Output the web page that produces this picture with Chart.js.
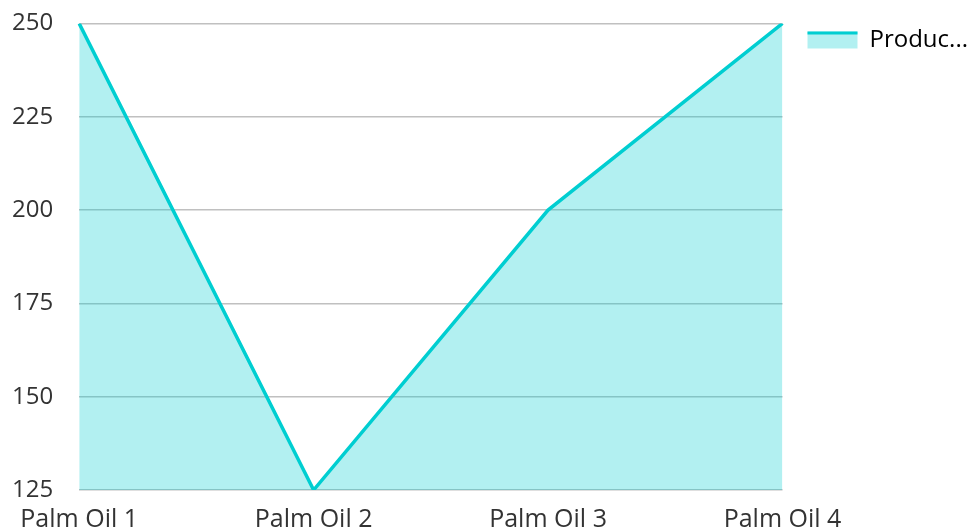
<!DOCTYPE html>
<html>
<head>
<meta charset="utf-8">
<script src="https://cdn.jsdelivr.net/npm/chart.js@4/dist/chart.umd.min.js"></script>
<style>
html,body{margin:0;padding:0;background:#fff;}
#wrap{width:969px;height:531px;position:relative;}
</style>
</head>
<body>
<div id="wrap"><canvas id="c" width="969" height="531"></canvas></div>
<script>
const categories = ["Palm Oil 1", "Palm Oil 2", "Palm Oil 3", "Palm Oil 4"];
const seriesName = "Production";
const productionValues = [250, 125, 200, 250];
const yTicks = [125, 150, 175, 200, 225, 250];

const lineColor = "#00CED1";
const fillColor = "rgba(0,206,209,0.3)";
const fontFamily = "'Open Sans', sans-serif";

const legendShift = {
  id: "legendShift",
  afterLayout(chart) {
    const lg = chart.legend;
    if (!lg) return;
    lg.left += 17; lg.right += 17;
    lg.top += 8; lg.bottom += 8;
  }
};

const legendTopLine = {
  id: "legendTopLine",
  afterDraw(chart) {
    const lg = chart.legend;
    if (!lg || !lg.legendHitBoxes || !lg.legendHitBoxes.length) return;
    const hb = lg.legendHitBoxes[0];
    const ctx = chart.ctx;
    const bw = lg.options.labels.boxWidth;
    const bh = lg.options.labels.boxHeight;
    const top = hb.top + (hb.height - bh) / 2;
    ctx.save();
    ctx.fillStyle = lineColor;
    ctx.fillRect(hb.left, top, bw, 3);
    ctx.restore();
  }
};

new Chart(document.getElementById("c"), {
  type: "line",
  data: {
    labels: categories,
    datasets: [{
      label: seriesName,
      data: productionValues,
      borderColor: lineColor,
      backgroundColor: fillColor,
      borderWidth: 3.5,
      fill: "start",
      tension: 0,
      pointRadius: 0,
      pointHoverRadius: 0
    }]
  },
  options: {
    responsive: false,
    animation: false,
    layout: { padding: { left: 3, right: 8, top: 12, bottom: 0 } },
    plugins: {
      tooltip: { enabled: false },
      legend: {
        position: "right",
        align: "start",
        labels: {
          boxWidth: 50,
          boxHeight: 17,
          padding: 8,
          color: "#333",
          font: { family: fontFamily, size: 24 },
          generateLabels(chart) {
            return chart.data.datasets.map((ds, i) => ({
              text: ds.label.length > 6 ? ds.label.slice(0, 6) + "..." : ds.label,
              fillStyle: fillColor,
              strokeStyle: "rgba(0,0,0,0)",
              lineWidth: 0,
              hidden: false,
              datasetIndex: i
            }));
          }
        }
      }
    },
    scales: {
      x: {
        offset: false,
        grid: { display: false, drawTicks: false },
        border: { display: false },
        afterFit(axis) { axis.height = 41; },
        ticks: {
          maxRotation: 0,
          autoSkip: false,
          padding: 15,
          color: "#333",
          font: { family: fontFamily, size: 25 }
        }
      },
      y: {
        min: yTicks[0],
        max: yTicks[yTicks.length - 1],
        afterBuildTicks(axis) { axis.ticks = yTicks.map(v => ({ value: v })); },
        grid: { color: "#c0c0c0", lineWidth: 1.5, drawTicks: true, tickLength: 17, tickColor: "rgba(0,0,0,0)" },
        border: { display: false },
        ticks: {
          padding: 9,
          color: "#333",
          font: { family: fontFamily, size: 24 }
        }
      }
    }
  },
  plugins: [legendShift, legendTopLine]
});
</script>
</body>
</html>
